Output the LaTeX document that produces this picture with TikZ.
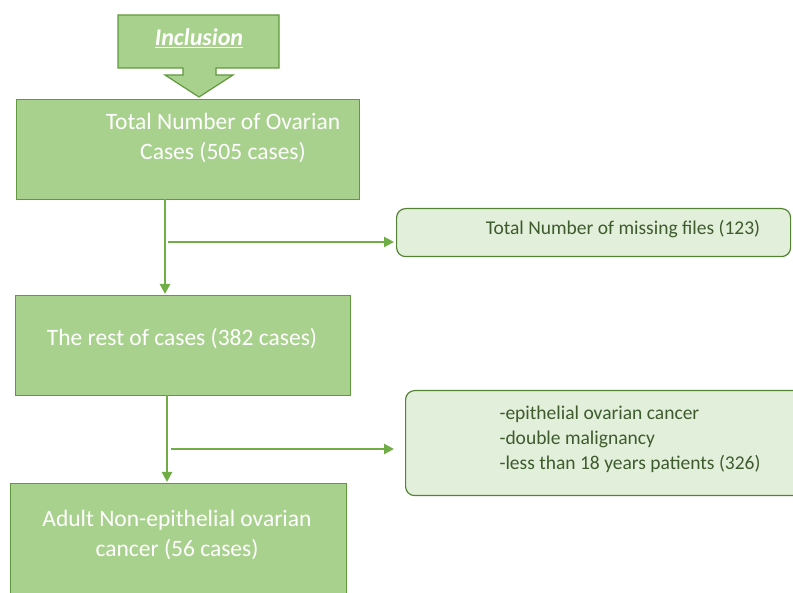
\documentclass[tikz,border=0pt]{standalone}
\usepackage{fontspec}
\setmainfont{Carlito}
\usetikzlibrary{arrows.meta}
\definecolor{boxfill}{HTML}{A9D18E}
\definecolor{boxline}{HTML}{5F9A3C}
\definecolor{arrowc}{HTML}{70AD47}
\definecolor{notefill}{HTML}{E2EFDA}
\definecolor{noteline}{HTML}{548235}
\definecolor{notetext}{HTML}{3E5B2E}
\tikzset{
  mainbox/.style={draw=boxline, line width=1.2pt, fill=boxfill, anchor=north west, inner sep=0pt},
  notebox/.style={draw=noteline, line width=1.2pt, fill=notefill, rounded corners=9pt, anchor=north west, inner sep=0pt},
  flow/.style={draw=arrowc, line width=2.6pt, -{Triangle[length=10pt,width=10pt]}},
  whitetxt/.style={text=white, font=\fontsize{23.5}{30}\selectfont, align=center},
  notetxt/.style={text=notetext, font=\fontsize{19.5}{25}\selectfont, align=left}
}
\begin{document}
\begin{tikzpicture}[x=1pt,y=-1pt]
\useasboundingbox (0,0) rectangle (793,593);
\clip (0,0) rectangle (793,593);
% Inclusion arrow shape
\draw[draw=boxline, line width=1.2pt, fill=boxfill]
  (118,15) -- (279,15) -- (279,68) -- (216,68) -- (216,75) -- (233,75) -- (199,97)
  -- (165,75) -- (183,75) -- (183,68) -- (118,68) -- cycle;
\node[text=white, font=\fontsize{24}{26}\bfseries\itshape\selectfont] (incl) at (199,38) {\underline{Inclusion}};
% main boxes
\node[mainbox, minimum width=343pt, minimum height=100pt] (b1) at (16,99) {};
\node[whitetxt] (t1) at (223,138) {Total Number of Ovarian\\Cases (505 cases)};
\node[mainbox, minimum width=335pt, minimum height=100pt] (b2) at (15,295) {};
\node[whitetxt] (t2) at (182,339) {The rest of cases (382 cases)};
\node[mainbox, minimum width=336pt, minimum height=130pt] (b3) at (10,483) {};
\node[whitetxt] (t3) at (177,535) {Adult Non-epithelial ovarian\\cancer (56 cases)};
% note boxes
\node[notebox, minimum width=394pt, minimum height=48pt] (n1) at (396,208) {};
\node[notetxt] (nt1) at (623,229) {Total Number of missing files (123)};
\node[notebox, minimum width=420pt, minimum height=105pt] (n2) at (405,390) {};
\node[notetxt, anchor=west] (nt2) at (496,439) {-epithelial ovarian cancer\\-double malignancy\\-less than 18 years patients (326)};
% connectors
\coordinate (v1) at (165,199);
\coordinate (h1s) at (168,242);
\coordinate (h1e) at (394,242);
\draw[flow] (v1) -- (165,294);
\draw[flow] (h1s) -- (h1e);
\coordinate (v2) at (167,395);
\coordinate (h2s) at (171,449);
\draw[flow] (v2) -- (167,482);
\draw[flow] (h2s) -- (394,449);
\end{tikzpicture}
\end{document}
